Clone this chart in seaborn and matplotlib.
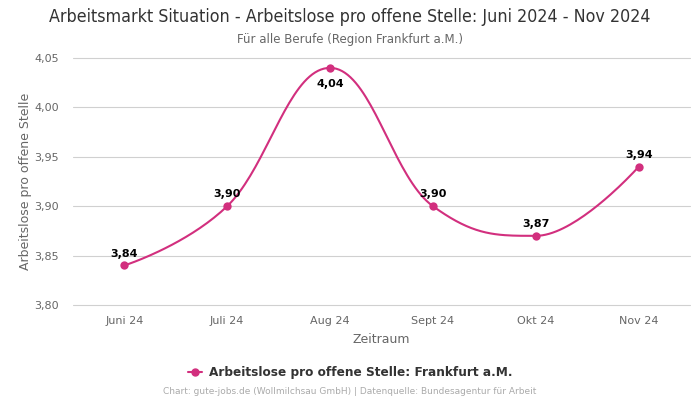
import numpy as np
import pandas as pd
import matplotlib
matplotlib.use("Agg")
import matplotlib.pyplot as plt
import seaborn as sns
from matplotlib.lines import Line2D

months = ["Juni 24", "Juli 24", "Aug 24", "Sept 24", "Okt 24", "Nov 24"]
values = [3.84, 3.90, 4.04, 3.90, 3.87, 3.94]
labels = ["3,84", "3,90", "4,04", "3,90", "3,87", "3,94"]
yticks = [3.80, 3.85, 3.90, 3.95, 4.00, 4.05]
series_name = "Arbeitslose pro offene Stelle: Frankfurt a.M."

color = "#d22f7e"

sns.set_theme(style="white")
plt.rcParams['font.family'] = ['DejaVu Sans']

fig = plt.figure(figsize=(7, 4), dpi=100)
ax = fig.add_axes([0.104, 0.2375, 0.882, 0.6175])

x = np.arange(len(values), dtype=float)
y = np.array(values, dtype=float)


def spline_path(xs, ys, n=40, smoothing=1.5):
    """Spline drawn through the points with clamped control points (no overshoot at extremes)."""
    denom = smoothing + 1
    N = len(xs)
    left = [None] * N
    right = [None] * N
    for i in range(N):
        px, py = xs[i], ys[i]
        if i == 0 or i == N - 1:
            left[i] = (px, py)
            right[i] = (px, py)
            continue
        lx, ly = xs[i - 1], ys[i - 1]
        nx, ny = xs[i + 1], ys[i + 1]
        lcx = (smoothing * px + lx) / denom
        lcy = (smoothing * py + ly) / denom
        rcx = (smoothing * px + nx) / denom
        rcy = (smoothing * py + ny) / denom
        if rcx != lcx:
            corr = ((rcy - lcy) * (rcx - px)) / (rcx - lcx) + py - rcy
            lcy += corr
            rcy += corr
        if lcy > ly and lcy > py:
            lcy = max(ly, py); rcy = 2 * py - lcy
        elif lcy < ly and lcy < py:
            lcy = min(ly, py); rcy = 2 * py - lcy
        if rcy > ny and rcy > py:
            rcy = max(ny, py); lcy = 2 * py - rcy
        elif rcy < ny and rcy < py:
            rcy = min(ny, py); lcy = 2 * py - rcy
        left[i] = (lcx, lcy)
        right[i] = (rcx, rcy)
    t = np.linspace(0, 1, n)
    outx, outy = [], []
    for i in range(1, N):
        p0 = (xs[i - 1], ys[i - 1]); c1 = right[i - 1]; c2 = left[i]; p3 = (xs[i], ys[i])
        bx = (1 - t) ** 3 * p0[0] + 3 * (1 - t) ** 2 * t * c1[0] + 3 * (1 - t) * t ** 2 * c2[0] + t ** 3 * p3[0]
        by = (1 - t) ** 3 * p0[1] + 3 * (1 - t) ** 2 * t * c1[1] + 3 * (1 - t) * t ** 2 * c2[1] + t ** 3 * p3[1]
        outx.append(bx); outy.append(by)
    return np.concatenate(outx), np.concatenate(outy)


sx, sy = spline_path(x, y)
curve = pd.DataFrame({"x": sx, "y": sy})
pts = pd.DataFrame({"x": x, "y": y})

sns.lineplot(data=curve, x="x", y="y", ax=ax, color=color, linewidth=1.5, sort=False)
sns.scatterplot(data=pts, x="x", y="y", ax=ax, color=color, s=36, edgecolor=color, linewidth=0, zorder=5)

for xi, yi, lab in zip(x, y, labels):
    if yi >= 4.02:
        ax.annotate(lab, (xi, yi), xytext=(0, -8), textcoords="offset points",
                    ha="center", va="top", fontsize=8, fontweight="bold", color="black")
    else:
        ax.annotate(lab, (xi, yi), xytext=(0, 5), textcoords="offset points",
                    ha="center", va="bottom", fontsize=8, fontweight="bold", color="black")

ax.set_xlim(-0.5, len(values) - 0.5)
ax.set_ylim(3.80, 4.05)
ax.set_xticks(x)
ax.set_xticklabels(months)
ax.set_yticks(yticks)
ax.set_yticklabels([f"{t:.2f}".replace(".", ",") for t in yticks])
ax.tick_params(axis="x", labelsize=8, colors="#666666", length=0, pad=8)
ax.tick_params(axis="y", labelsize=8, colors="#666666", length=0, pad=10)
ax.grid(axis="y", color="#d0d0d0", linewidth=0.8)
ax.grid(axis="x", visible=False)
for gl in ax.get_ygridlines():
    gl.set_clip_on(False)
for s in ax.spines.values():
    s.set_visible(False)
ax.set_xlabel("Zeitraum", fontsize=9, color="#666666", labelpad=5)
ax.set_ylabel("Arbeitslose pro offene Stelle", fontsize=9, color="#666666", labelpad=2)

fig.text(0.5, 0.958, "Arbeitsmarkt Situation - Arbeitslose pro offene Stelle: Juni 2024 - Nov 2024",
         ha="center", va="center", fontsize=12.8, color="#333333", fontstretch="condensed")
fig.text(0.5, 0.902, "Für alle Berufe (Region Frankfurt a.M.)", ha="center", va="center",
         fontsize=8.5, color="#666666")

handle = Line2D([0], [0], color=color, marker="o", markersize=5, linewidth=1.5)
fig.legend([handle], [series_name], loc="center", bbox_to_anchor=(0.5, 0.068),
           frameon=False, prop={"size": 8.7, "weight": "bold"}, labelcolor="#333333",
           handlelength=1.2, handletextpad=0.5)

fig.text(0.5, 0.02, "Chart: gute-jobs.de (Wollmilchsau GmbH) | Datenquelle: Bundesagentur für Arbeit",
         ha="center", va="center", fontsize=6.45, color="#aaaaaa")

fig.savefig("out.png", dpi=100)
